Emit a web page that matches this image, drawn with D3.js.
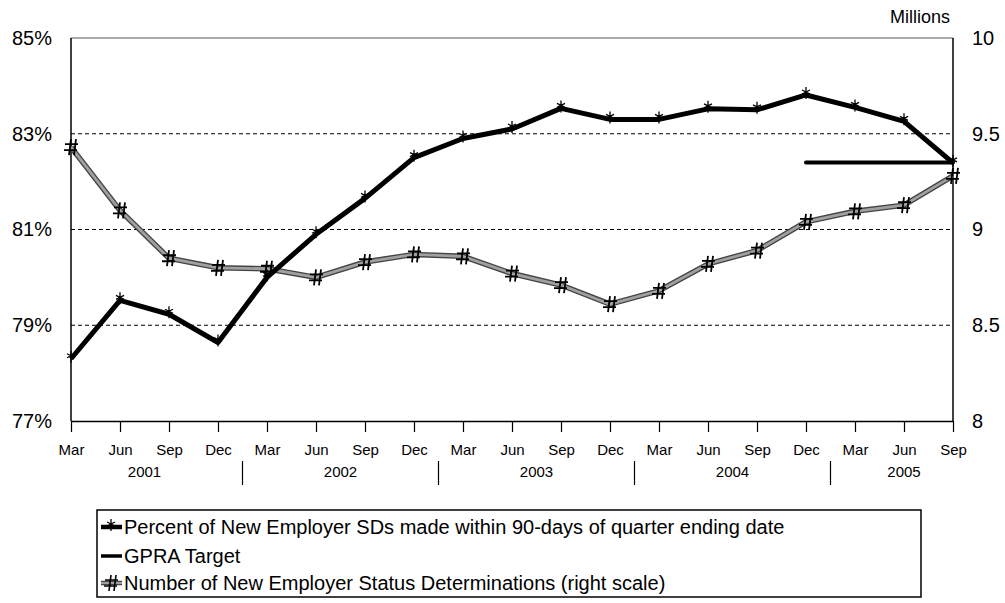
<!DOCTYPE html>
<html>

<head>
    <meta charset="utf-8">
    <title>New Employer SDs</title>
    <script type="text/javascript" src="https://cdn.jsdelivr.net/npm/d3@7"></script>
    <style>
        body { margin: 0; background: #fff; }
        text { font-family: "Liberation Sans", Arial, sans-serif; fill: #000; }
    </style>
</head>

<body>
    <script type="text/javascript">
    /* data */
    var months = ['Mar', 'Jun', 'Sep', 'Dec', 'Mar', 'Jun', 'Sep', 'Dec', 'Mar', 'Jun',
        'Sep', 'Dec', 'Mar', 'Jun', 'Sep', 'Dec', 'Mar', 'Jun', 'Sep'];
    var years = ['2001', '2002', '2003', '2004', '2005'];
    // percent of new employer SDs made within 90 days (left scale)
    var percentSeries = [78.3, 79.52, 79.23, 78.64, 80.0, 80.9, 81.65, 82.5, 82.9, 83.1,
        83.53, 83.3, 83.3, 83.52, 83.5, 83.81, 83.55, 83.26, 82.39];
    // GPRA target (left scale), only drawn Dec 2004 - Sep 2005
    var gpraTarget = [null, null, null, null, null, null, null, null, null, null,
        null, null, null, null, null, 82.4, 82.4, 82.4, 82.4];
    // number of new employer status determinations, millions (right scale)
    var numberSeries = [9.43, 9.10, 8.85, 8.80, 8.795, 8.75, 8.83, 8.87, 8.86, 8.77,
        8.71, 8.61, 8.68, 8.82, 8.89, 9.04, 9.095, 9.127, 9.28];
    var leftTicks = [77, 79, 81, 83, 85];
    var rightTicks = [8, 8.5, 9, 9.5, 10];
    var legendLabels = [
        'Percent of New Employer SDs made within 90-days of quarter ending date',
        'GPRA Target',
        'Number of New Employer Status Determinations (right scale)'
    ];

    var svgWidth = 1005;
    var svgHeight = 603;
    var plotLeft = 71, plotRight = 953, plotTop = 38, plotBottom = 421;

    var svg = d3.select('body').append('svg')
        .attr('width', svgWidth)
        .attr('height', svgHeight);

    var x = d3.scalePoint().domain(d3.range(months.length)).range([plotLeft, plotRight]);
    var yL = d3.scaleLinear().domain([77, 85]).range([plotBottom, plotTop]);
    var yR = d3.scaleLinear().domain([8, 10]).range([plotBottom, plotTop]);

    /* dashed grid lines */
    svg.append('g').selectAll('line')
        .data(leftTicks.slice(1, -1))
        .enter().append('line')
        .attr('x1', plotLeft).attr('x2', plotRight)
        .attr('y1', function(d) { return yL(d); })
        .attr('y2', function(d) { return yL(d); })
        .attr('stroke', '#000')
        .attr('stroke-width', 1)
        .attr('stroke-dasharray', '4,3');

    /* frame */
    svg.append('line').attr('x1', plotLeft).attr('x2', plotRight).attr('y1', plotTop).attr('y2', plotTop)
        .attr('stroke', '#555').attr('stroke-width', 1);
    svg.append('line').attr('x1', plotLeft).attr('x2', plotLeft).attr('y1', plotTop).attr('y2', plotBottom)
        .attr('stroke', '#000').attr('stroke-width', 1.5);
    svg.append('line').attr('x1', plotRight).attr('x2', plotRight).attr('y1', plotTop).attr('y2', plotBottom)
        .attr('stroke', '#000').attr('stroke-width', 1.5);

    /* x axis */
    var xAxis = svg.append('g')
        .attr('transform', 'translate(0,' + plotBottom + ')')
        .call(d3.axisBottom(x).tickSize(11).tickSizeOuter(0)
            .tickFormat(function(i) { return months[i]; }));
    xAxis.select('.domain').attr('stroke-width', 1.5);
    xAxis.selectAll('.tick line').attr('stroke-width', 1.2);
    xAxis.selectAll('.tick text')
        .attr('y', 29).attr('dy', '0.35em')
        .attr('font-size', '15px')
        .attr('font-family', '"Liberation Sans", Arial, sans-serif');

    /* year labels and separators */
    years.forEach(function(yr, k) {
        var first = k * 4;
        var last = Math.min(k * 4 + 3, months.length - 1);
        svg.append('text')
            .attr('x', (x(first) + x(last)) / 2)
            .attr('y', 472)
            .attr('dy', '0.35em')
            .attr('text-anchor', 'middle')
            .attr('font-size', '15px')
            .text(yr);
        if (k > 0) {
            var sx = (x(first - 1) + x(first)) / 2;
            svg.append('line')
                .attr('x1', sx).attr('x2', sx)
                .attr('y1', 461).attr('y2', 485)
                .attr('stroke', '#000').attr('stroke-width', 1.2);
        }
    });

    /* left axis */
    var yAxisL = svg.append('g')
        .attr('transform', 'translate(' + (plotLeft - 16) + ',0)')
        .call(d3.axisLeft(yL).tickValues(leftTicks).tickSize(0)
            .tickFormat(function(d) { return d + '%'; }));
    yAxisL.select('.domain').remove();
    yAxisL.selectAll('text').attr('font-size', '20px')
        .attr('font-family', '"Liberation Sans", Arial, sans-serif');

    /* right axis */
    var yAxisR = svg.append('g')
        .attr('transform', 'translate(' + (plotRight + 16) + ',0)')
        .call(d3.axisRight(yR).tickValues(rightTicks).tickSize(0)
            .tickFormat(function(d) { return d; }));
    yAxisR.select('.domain').remove();
    yAxisR.selectAll('text').attr('font-size', '20px')
        .attr('font-family', '"Liberation Sans", Arial, sans-serif');

    svg.append('text')
        .attr('x', 950).attr('y', 17).attr('dy', '0.35em')
        .attr('text-anchor', 'end')
        .attr('font-size', '18px')
        .text('Millions');

    /* number series (gray line with # markers) */
    var lineR = d3.line()
        .x(function(d, i) { return x(i); })
        .y(function(d) { return yR(d); });
    svg.append('path').datum(numberSeries)
        .attr('d', lineR).attr('fill', 'none')
        .attr('stroke', '#444').attr('stroke-width', 5.5);
    svg.append('path').datum(numberSeries)
        .attr('d', lineR).attr('fill', 'none')
        .attr('stroke', '#a0a0a0').attr('stroke-width', 2.8);

    function hashPath(cx, cy) {
        // slanted "#" glyph
        return 'M' + (cx - 2) + ',' + (cy + 8) + 'L' + (cx + 0) + ',' + (cy - 8) +
            'M' + (cx + 3) + ',' + (cy + 8) + 'L' + (cx + 5) + ',' + (cy - 8) +
            'M' + (cx - 6) + ',' + (cy - 3) + 'L' + (cx + 7) + ',' + (cy - 3) +
            'M' + (cx - 7) + ',' + (cy + 3) + 'L' + (cx + 6) + ',' + (cy + 3);
    }
    svg.append('g').selectAll('path')
        .data(numberSeries)
        .enter().append('path')
        .attr('d', function(d, i) { return hashPath(x(i), yR(d)); })
        .attr('fill', 'none')
        .attr('stroke', '#000')
        .attr('stroke-width', 1.8);

    /* percent series */
    var lineL = d3.line()
        .defined(function(d) { return d != null; })
        .x(function(d, i) { return x(i); })
        .y(function(d) { return yL(d); });
    svg.append('path').datum(percentSeries)
        .attr('d', lineL).attr('fill', 'none')
        .attr('stroke', '#000').attr('stroke-width', 5)
        .attr('stroke-linejoin', 'round');

    function starPath(cx, cy) {
        return 'M' + cx + ',' + (cy - 8) + 'L' + cx + ',' + (cy + 4) +
            'M' + (cx - 4) + ',' + (cy - 5) + 'L' + (cx + 4) + ',' + (cy - 1) +
            'M' + (cx + 4) + ',' + (cy - 5) + 'L' + (cx - 4) + ',' + (cy - 1);
    }
    svg.append('g').selectAll('path')
        .data(percentSeries)
        .enter().append('path')
        .attr('d', function(d, i) { return starPath(x(i), yL(d)); })
        .attr('fill', 'none')
        .attr('stroke', '#000')
        .attr('stroke-width', 1.3);

    /* GPRA target */
    svg.append('path').datum(gpraTarget)
        .attr('d', lineL).attr('fill', 'none')
        .attr('stroke', '#000').attr('stroke-width', 4)
        .attr('stroke-linecap', 'round');

    /* legend */
    var lg = svg.append('g');
    var lgX = 97;
    lg.append('rect')
        .attr('x', lgX).attr('y', 510)
        .attr('width', 921 - lgX).attr('height', 87)
        .attr('fill', 'none')
        .attr('stroke', '#000').attr('stroke-width', 1.5);
    var rowY = [527, 556, 583];
    legendLabels.forEach(function(label, k) {
        var cy = rowY[k];
        var x1 = lgX + 4, x2 = lgX + 25, mx = lgX + 14;
        if (k === 2) {
            lg.append('line').attr('x1', x1).attr('x2', x2).attr('y1', cy).attr('y2', cy)
                .attr('stroke', '#444').attr('stroke-width', 4.5);
            lg.append('line').attr('x1', x1).attr('x2', x2).attr('y1', cy).attr('y2', cy)
                .attr('stroke', '#a0a0a0').attr('stroke-width', 2);
            lg.append('path').attr('d', hashPath(mx, cy))
                .attr('fill', 'none').attr('stroke', '#000').attr('stroke-width', 1.6);
        } else {
            lg.append('line').attr('x1', x1).attr('x2', x2).attr('y1', cy).attr('y2', cy)
                .attr('stroke', '#000').attr('stroke-width', k === 0 ? 4.5 : 3.5);
            if (k === 0) {
                lg.append('path').attr('d', starPath(mx, cy))
                    .attr('fill', 'none').attr('stroke', '#000').attr('stroke-width', 1.3);
            }
        }
        lg.append('text')
            .attr('x', lgX + 27).attr('y', cy).attr('dy', '0.35em')
            .attr('font-size', '20px')
            .text(label);
    });
    </script>
</body>

</html>
